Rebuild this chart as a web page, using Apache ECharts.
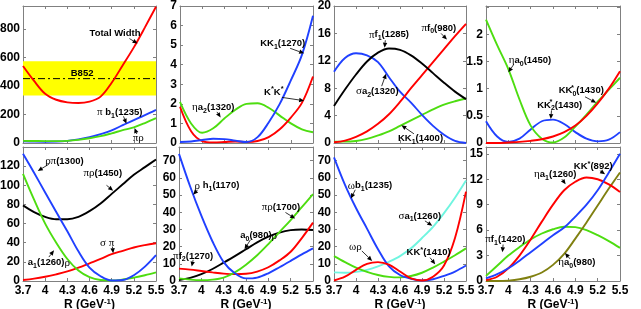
<!DOCTYPE html>
<html><head><meta charset="utf-8">
<script src="https://cdn.jsdelivr.net/npm/echarts@6/dist/echarts.min.js"></script>
<style>html,body{margin:0;padding:0;background:#fff}#c{width:641px;height:309px}</style>
</head><body><div id="c"></div>
<script>
// ---------- data ----------
const R = [3.7,3.85,4.0,4.15,4.3,4.45,4.6,4.75,4.9,5.05,5.2,5.35,5.5];
const xTicks = [3.7,4,4.3,4.6,4.9,5.2,5.5];

// panel 1
const p1_totalWidth = [540,435,345,303,285,280,290,325,422,545,670,810,955];
const p1_pib1 = [12,10,9,10,15,25,40,62,88,125,160,195,232];
const p1_pirho = [15,14,13,13,15,22,33,48,68,90,110,140,174];
const B852_band = [332,573];
const B852_center = 451;
// panel 2
const p2_etaa2 = [2.1,1.0,0.52,0.75,1.25,1.7,2.0,2.03,1.8,1.4,1.0,0.7,0.55];
const p2_KK1 = [0.05,0.08,0.15,0.22,0.2,0.12,0.05,0.3,1.05,2.0,3.2,4.5,6.5];
const p2_KstarKstar = [1.85,0.6,0.1,0.03,0.05,0.08,0.05,0.1,0.3,0.7,1.3,2.05,3.4];
// panel 3
const p3_pif1 = [5.4,7.8,10.0,11.9,13.2,13.8,13.6,12.8,11.6,10.2,8.8,7.5,6.4];
const p3_sigmaa2 = [10.4,12.4,13.1,12.8,11.8,9.6,7.5,5.9,4.1,2.5,1.2,0.3,0.0];
const p3_pif0 = [0.1,0.35,0.9,1.7,2.8,4.2,6.0,8.0,9.9,11.8,13.7,15.6,17.4];
const p3_KK1 = [0.2,0.2,0.3,0.6,1.1,1.7,2.5,3.3,4.1,4.9,5.6,6.1,6.5];
// panel 4
const p4_etaa0 = [2.27,1.8,1.36,0.8,0.32,0.08,0.01,0.1,0.3,0.52,0.76,0.98,1.2];
const p4_KK2 = [0.4,0.12,0.02,0.08,0.25,0.4,0.43,0.35,0.2,0.08,0.03,0.06,0.2];
const p4_KK0 = [0.0,0.0,0.01,0.02,0.04,0.07,0.12,0.2,0.32,0.5,0.73,1.0,1.32];
// panel 5
const p5_rhopi = [133,113,92.5,72,52,31,14,5,0.5,1,6,15,27];
const p5_pirho = [79,72,67,64.5,64.5,67,73,81,91,101,111,119,127];
const p5_sigmapi = [1,2.5,4.5,7,10,14,18.5,23,28,31.5,35,37.5,39.5];
const p5_a1rho = [112,85,60,40,23,11,4,1,0.5,1.5,3.5,6,9];
// panel 6
const p6_rhoh1 = [74,55,38,23,11,4.5,1.5,2,4.5,8,11.7,15.5,19];
const p6_pirho1700 = [1.5,0.8,0.5,0.8,2,5,9.5,15,21.5,28.5,35.5,43,50.5];
const p6_a0rho = [0.5,1.8,4,7,10.7,14.5,18.5,22.5,25.8,28.2,29.6,30,29.7];
const p6_pif2 = [7.2,6.6,5.8,5.0,4.3,4.0,4.2,5.5,8,12,17,25,34];
// panel 7
const p7_omegab1 = [72,56,42.5,30.5,18.5,8.5,3.5,1.3,0.3,1,3,5.5,9];
const p7_omegarho = [0.3,2.5,6.5,10,11,9.5,5.5,1.5,0.3,2.5,9,25,52];
const p7_sigmaa1 = [5,4.8,5.3,6.5,8.5,11.2,14.5,19,25,31.5,39.5,48.5,58.5];
const p7_KKstar1410 = [14.5,11,7.8,5.3,3.5,2.4,2.1,2.9,4.8,7.8,11.3,15,19];
// panel 8
const p8_KKstar892 = [0.3,0.8,1.5,2.4,3.4,4.4,5.4,6.3,7.6,9.0,10.7,12.8,15];
const p8_etaa1 = [0.1,0.5,1.5,3.0,4.9,7.0,9.0,10.7,11.7,12.2,12.0,11.4,10.5];
const p8_pif1420 = [0.6,1.8,3.0,4.0,4.9,5.6,6.1,6.4,6.35,6.0,5.4,4.7,3.9];
const p8_etaa0980 = [0,0,0.05,0.2,0.5,1.0,1.9,3.2,5.0,6.9,8.9,10.9,12.8];

// ---------- styles ----------
const RED='#ff0000', BLUE='#2040ff', GREEN='#4ddd10', BLACK='#000000', CYAN='#6ff5e0', OLIVE='#808010';
const GRAY='#808080';
const FONT='Liberation Sans';

const panels = [
 {grid:{left:23,top:6,width:133,height:137}, ymax:960, yint:200, ylab:800, bottom:false,
  series:[[p1_pib1,BLUE],[p1_pirho,GREEN],[p1_totalWidth,RED]]},
 {grid:{left:180,top:6,width:133,height:137}, ymax:7, yint:1, ylab:7, bottom:false,
  series:[[p2_etaa2,GREEN],[p2_KstarKstar,RED],[p2_KK1,BLUE]]},
 {grid:{left:334,top:6,width:132,height:137}, ymax:20, yint:4, ylab:20, bottom:false,
  series:[[p3_KK1,GREEN],[p3_sigmaa2,BLUE],[p3_pif0,RED],[p3_pif1,BLACK]]},
 {grid:{left:486,top:6,width:134,height:137}, ymax:2.52, yint:0.5, ylab:2, bottom:false,
  series:[[p4_KK2,BLUE],[p4_etaa0,GREEN],[p4_KK0,RED]]},
 {grid:{left:23,top:147,width:133,height:134}, ymax:140, yint:20, ylab:120, bottom:true,
  series:[[p5_pirho,BLACK],[p5_sigmapi,RED],[p5_a1rho,GREEN],[p5_rhopi,BLUE]]},
 {grid:{left:179,top:147,width:134,height:134}, ymax:78, yint:10, ylab:70, bottom:true,
  series:[[p6_a0rho,BLACK],[p6_pif2,RED],[p6_pirho1700,GREEN],[p6_rhoh1,BLUE]]},
 {grid:{left:334,top:147,width:132,height:134}, ymax:78, yint:10, ylab:70, bottom:true,
  series:[[p7_sigmaa1,CYAN],[p7_KKstar1410,GREEN],[p7_omegab1,BLUE],[p7_omegarho,RED]]},
 {grid:{left:486,top:147,width:134,height:134}, ymax:15.8, yint:3, ylab:15, bottom:true,
  series:[[p8_pif1420,GREEN],[p8_etaa0980,OLIVE],[p8_etaa1,RED],[p8_KKstar892,BLUE]]}
];

// annotations: panel, text, text position (R,value), arrow start/end (R,value)
const ANNOTS = [
 {p:0, t:'{b|Total Width}', at:[4.945,765], ar:[5.14,732,5.25,697]},
 {p:0, t:'{b|B852}', at:[4.5,489]},
 {p:0, t:'{g|π} {b|b}{s|1}{b|(1235)}', at:[5.01,215], ar:[5.06,187,5.1,135]},
 {p:0, t:'{g|πρ}', at:[5.26,35], ar:[5.24,63,5.21,105]},
 {p:1, t:'{g|η}{b|a}{s|2}{b|(1320)}', at:[4.15,1.81], ar:[4.2,1.59,4.25,1.3]},
 {p:1, t:'{b|KK}{s|1}{b|(1270)}', at:[5.09,5.08], ar:[5.19,4.84,5.38,4.58]},
 {p:1, t:'{b|K}{u|*}{b|K}{u|*}', at:[4.97,2.59], ar:[5.08,2.33,5.38,2.16]},
 {p:2, t:'{g|π}{b|f}{s|1}{b|(1285)}', at:[4.45,15.8], ar:[4.40,15.0,4.39,13.9]},
 {p:2, t:'{g|π}{b|f}{s|0}{b|(980)}', at:[5.13,16.8], ar:[5.16,16.0,5.24,15.1]},
 {p:2, t:'{g|σ}{b|a}{s|2}{b|(1320)}', at:[4.29,7.56], ar:[4.35,8.3,4.41,10.1]},
 {p:2, t:'{b|KK}{s|1}{b|(1400)}', at:[4.88,0.7], ar:[4.79,1.34,4.62,2.59]},
 {p:3, t:'{g|η}{b|a}{s|0}{b|(1450)}', at:[4.29,1.52], ar:[4.07,1.44,4.0,1.30]},
 {p:3, t:'{b|KK}{z|*}{s|0}{b|(1430)}', at:[4.98,0.96], ar:[5.03,0.85,5.18,0.74]},
 {p:3, t:'{b|KK}{z|*}{s|2}{b|(1430)}', at:[4.69,0.7], ar:[4.58,0.6,4.57,0.44]},
 {p:4, t:'{g|ρπ}{b|(1300)}', at:[4.26,125], ar:[4.05,122,3.9,115]},
 {p:4, t:'{g|πρ}{b|(1450)}', at:[4.78,112.6], ar:[4.83,100,4.92,94.4]},
 {p:4, t:'{g|σ π}', at:[4.84,40], ar:[4.91,36,4.92,29]},
 {p:4, t:'{b|a}{s|1}{b|(1260)}{g|ρ}', at:[4.05,19.2], ar:[4.05,25,4.12,32]},
 {p:5, t:'{g|ρ} {b|h}{s|1}{b|(1170)}', at:[4.21,55.4], ar:[3.95,53.1,3.89,50.2]},
 {p:5, t:'{g|πρ}{b|(1700)}', at:[5.07,42.8], ar:[5.13,39.9,5.26,36.4]},
 {p:5, t:'{b|a}{s|0}{b|(980)}{g|ρ}', at:[4.77,26.3], ar:[4.66,24,4.58,18.5]},
 {p:5, t:'{g|π}{b|f}{s|2}{b|(1270)}', at:[3.89,14.6], ar:[3.89,12.3,3.87,8.4]},
 {p:6, t:'{g|ω}{b|b}{s|1}{b|(1235)}', at:[4.19,55.4], ar:[3.99,53.1,3.93,48]},
 {p:6, t:'{g|σ}{b|a}{s|1}{b|(1260)}', at:[4.87,37.9], ar:[4.94,35,5.04,32.1]},
 {p:6, t:'{g|ωρ}', at:[3.99,19.5], ar:[4.08,17.5,4.22,11.7]},
 {p:6, t:'{b|KK}{u|*}{b|(1410)}', at:[4.99,16.5], ar:[5.01,13.6,5.08,9.7]},
 {p:7, t:'{b|KK}{u|*}{b|(892)}', at:[5.14,13.5], ar:[5.23,13.0,5.3,12.6]},
 {p:7, t:'{g|η}{b|a}{s|1}{b|(1260)}', at:[4.63,12.6], ar:[4.72,12.0,4.77,11.4]},
 {p:7, t:'{g|π}{b|f}{s|1}{b|(1420)}', at:[3.96,4.9], ar:[3.93,4.3,3.92,3.4]},
 {p:7, t:'{g|η}{b|a}{s|0}{b|(980)}', at:[4.92,2.2], ar:[4.83,2.6,4.76,3.3]}
];

const X0 = 3.7;
function near(v, step){ return Math.abs(v/step - Math.round(v/step)) < 1e-6; }

const grids=[], xAxes=[], yAxes=[], series=[];
const xTop=[], yRight=[];
panels.forEach((pn,i)=>{
  grids.push(Object.assign({containLabel:false, outerBoundsMode:'none', show:false}, pn.grid));
  xAxes.push({gridIndex:i, type:'value', min:0, max:1.8, interval:0.3, position:'bottom',
    axisLine:{show:true, onZero:false, lineStyle:{color:GRAY,width:1}},
    axisTick:{show:true, inside:true, length:3, lineStyle:{color:GRAY}},
    splitLine:{show:false},
    axisLabel:{show:pn.bottom, margin:4, color:'#000', fontWeight:'bold', fontSize:12, fontFamily:FONT,
      showMinLabel:true, showMaxLabel:true,
      formatter:v=>{const r=Math.round((v+X0)*10)/10; return xTicks.some(t=>Math.abs(t-r)<1e-6)?String(r):'';}},
    name: pn.bottom ? '{n|R (GeV}{sup|-1}{n|)}' : '', nameLocation:'middle', nameGap:15,
    nameTextStyle:{color:'#000', fontWeight:'bold', fontSize:12, fontFamily:FONT,
      rich:{n:{fontWeight:'bold',fontSize:12,fontFamily:FONT,color:'#000',lineHeight:14},
            sup:{fontWeight:'bold',fontSize:8,fontFamily:FONT,color:'#000',lineHeight:8,verticalAlign:'top'}}}
  });
  xTop.push({gridIndex:i, type:'value', min:0, max:1.8, interval:0.3, position:'top',
    axisLine:{show:true, onZero:false, lineStyle:{color:GRAY,width:1}},
    axisTick:{show:true, inside:true, length:3, lineStyle:{color:GRAY}},
    splitLine:{show:false}, axisLabel:{show:false}});
  yAxes.push({gridIndex:i, type:'value', min:0, max:pn.ymax, interval:pn.yint, position:'left',
    axisLine:{show:true, onZero:false, lineStyle:{color:GRAY,width:1}},
    axisTick:{show:true, inside:true, length:3, lineStyle:{color:GRAY}},
    splitLine:{show:false},
    axisLabel:{margin:3, color:'#000', fontWeight:'bold', fontSize:12, fontFamily:FONT,
      showMaxLabel:true,
      formatter:v=>(v<=pn.ylab+1e-9 && near(v,pn.yint)) ? String(Math.round(v*100)/100) : ''}});
  yRight.push({gridIndex:i, type:'value', min:0, max:pn.ymax, interval:pn.yint, position:'right',
    axisLine:{show:true, onZero:false, lineStyle:{color:GRAY,width:1}},
    axisTick:{show:true, inside:true, length:3, lineStyle:{color:GRAY}},
    splitLine:{show:false}, axisLabel:{show:false}});
  pn.series.forEach(([arr,col])=>{
    series.push({type:'line', xAxisIndex:i, yAxisIndex:i, smooth:0.35, showSymbol:false, silent:true,
      data:R.map((r,k)=>[r-X0, arr[k]]), lineStyle:{color:col, width:1.9}, itemStyle:{color:col}, z:3});
  });
});
// B852 band + dash-dot line (panel 1)
series.push({type:'line', xAxisIndex:0, yAxisIndex:0, showSymbol:false, silent:true, z:2,
  data:[[0,B852_center],[1.8,B852_center]],
  lineStyle:{color:'#000', width:1, type:[7,3,2,3]},
  markArea:{silent:true, z:1, itemStyle:{color:'#ffff00', opacity:1},
    data:[[{yAxis:B852_band[0]},{yAxis:B852_band[1]}]]}});

const option = {
  animation:false, backgroundColor:'#fff',
  grid:grids, xAxis:xAxes.concat(xTop), yAxis:yAxes.concat(yRight), series:series
};
const chart = echarts.init(document.getElementById('c'), null, {renderer:'canvas'});
chart.setOption(option);

const RICH = {
  b:{fontFamily:FONT, fontWeight:'bold', fontSize:9.5, lineHeight:14, fill:'#000'},
  g:{fontFamily:'Liberation Serif', fontWeight:'normal', fontSize:11, lineHeight:14, fill:'#000'},
  s:{fontFamily:FONT, fontWeight:'bold', fontSize:7, lineHeight:7, verticalAlign:'bottom', fill:'#000'},
  u:{fontFamily:FONT, fontWeight:'bold', fontSize:7.5, lineHeight:7, verticalAlign:'top', fill:'#000'},
  z:{fontFamily:FONT, fontWeight:'bold', fontSize:7.5, lineHeight:7, verticalAlign:'top', fill:'#000', width:0.01, align:'left'}
};
const gfx=[];
function px(i, r, v){ return chart.convertToPixel({xAxisIndex:i, yAxisIndex:i}, [r-X0, v]); }
ANNOTS.forEach(a=>{
  const p = px(a.p, a.at[0], a.at[1]);
  gfx.push({type:'text', x:p[0], y:p[1], z:100, silent:true,
    style:{text:a.t, rich:RICH, align:'center', verticalAlign:'middle', fill:'#000',
      fontFamily:FONT, fontWeight:'bold', fontSize:9.5}});
  if(a.ar){
    const s = px(a.p, a.ar[0], a.ar[1]), e = px(a.p, a.ar[2], a.ar[3]);
    const dx=e[0]-s[0], dy=e[1]-s[1], L=Math.hypot(dx,dy)||1, ux=dx/L, uy=dy/L;
    const hl=5, hw=2.2, bx=e[0]-ux*hl, by=e[1]-uy*hl;
    gfx.push({type:'line', z:100, silent:true, shape:{x1:s[0],y1:s[1],x2:bx,y2:by}, style:{stroke:'#000', lineWidth:0.8}});
    gfx.push({type:'polygon', z:100, silent:true, shape:{points:[[e[0],e[1]],[bx-uy*hw,by+ux*hw],[bx+uy*hw,by-ux*hw]]}, style:{fill:'#000'}});
  }
});
chart.setOption({graphic:gfx});
</script>
</body></html>
